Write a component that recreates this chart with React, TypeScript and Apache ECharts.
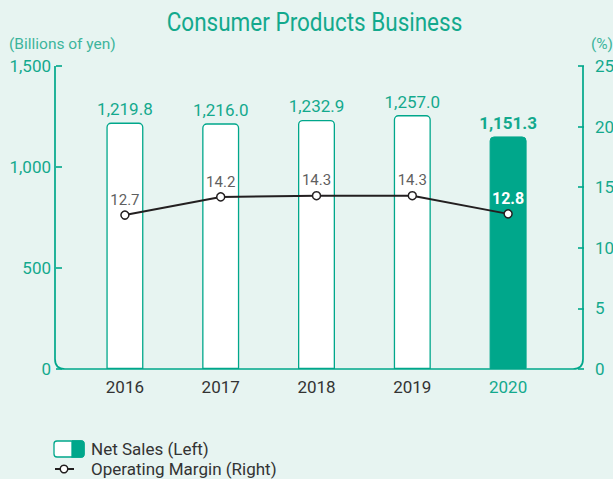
import React, { useEffect, useRef } from "react";
import * as echarts from "echarts";

const categories = ["2016", "2017", "2018", "2019", "2020"];
const netSales = [1219.8, 1216.0, 1232.9, 1257.0, 1151.3];
const operatingMargin = [12.7, 14.2, 14.3, 14.3, 12.8];
const leftTicks = { min: 0, max: 1500, interval: 500 };
const rightTicks = { min: 0, max: 25, interval: 5 };

const TEAL = "#00a78b";
const TEAL_TEXT = "#13a98d";
const TEAL_LIGHT = "#3db49c";
const BG = "#e7f4f1";
const FONT = "Roboto, 'Liberation Sans', Arial, sans-serif";

const fmt = (v: number, d = 0) =>
  v.toLocaleString("en-US", { minimumFractionDigits: d, maximumFractionDigits: d });

export default function App() {
  const ref = useRef<HTMLDivElement>(null);
  useEffect(() => {
    if (!ref.current) return;
    echarts.graphic.registerShape(
      "frame",
      echarts.graphic.extendPath("M0 0 L0 293 Q0 303 10 303 L518 303 Q528 303 528 293 L528 0", {})
    );
    const chart = echarts.init(ref.current, null, { renderer: "svg" });
    const last = categories.length - 1;
    chart.setOption({
      animation: false,
      backgroundColor: BG,
      textStyle: { fontFamily: FONT },
      grid: { left: 77, right: 57, top: 66, bottom: 110, containLabel: false, outerBoundsMode: "none" },
      xAxis: {
        type: "category",
        data: categories.map((c, i) =>
          i === last ? { value: c, textStyle: { color: TEAL_TEXT } } : c
        ),
        axisLine: { show: false },
        axisTick: { show: false },
        axisLabel: { color: "#333", fontSize: 17, margin: 9, fontFamily: FONT },
      },
      yAxis: [
        {
          type: "value",
          ...leftTicks,
          offset: 21,
          axisLine: { show: false },
          axisTick: { show: true, inside: true, length: 6, lineStyle: { color: TEAL, width: 1.6 } },
          splitLine: { show: false },
          axisLabel: { color: TEAL_TEXT, fontSize: 17, margin: 5, formatter: (v: number) => fmt(v) },
        },
        {
          type: "value",
          ...rightTicks,
          offset: 28,
          position: "right",
          axisLine: { show: false },
          axisTick: { show: true, inside: true, length: 6, lineStyle: { color: TEAL, width: 1.6 } },
          splitLine: { show: false },
          axisLabel: { color: TEAL_TEXT, fontSize: 17, margin: 11 },
        },
      ],
      series: [
        {
          type: "bar",
          yAxisIndex: 0,
          barWidth: 37,
          data: netSales.map((v, i) =>
            i === last
              ? {
                  value: v,
                  itemStyle: { color: TEAL, borderColor: TEAL, borderWidth: 1 },
                  label: { fontWeight: "bold" },
                }
              : v
          ),
          itemStyle: { color: "#ffffff", borderColor: TEAL, borderWidth: 1.3, borderRadius: [4, 4, 0, 0] },
          label: {
            show: true,
            position: "top",
            distance: 5,
            color: TEAL_TEXT,
            fontSize: 17,
            formatter: (p: any) => fmt(p.value, 1),
          },
        },
        {
          type: "line",
          yAxisIndex: 1,
          data: operatingMargin.map((v, i) =>
            i === last ? { value: v, label: { color: "#fff", fontWeight: "bold", fontSize: 16 } } : v
          ),
          lineStyle: { color: "#231f20", width: 2 },
          symbol: "circle",
          symbolSize: 8,
          itemStyle: { color: "#ffffff", borderColor: "#231f20", borderWidth: 1.5 },
          label: {
            show: true,
            position: "top",
            distance: 3,
            color: "#5f5f5f",
            fontSize: 15,
            formatter: (p: any) => fmt(p.value, 1),
          },
        },
      ],
      graphic: [
        {
          type: "frame",
          x: 55,
          y: 66,
          silent: true,
          style: { fill: null, stroke: TEAL, lineWidth: 1.7 },
          z: 10,
        },
        {
          type: "text",
          x: 314.5,
          y: 23,
          scaleX: 0.9,
          style: {
            text: "Consumer Products Business",
            fill: TEAL_TEXT,
            fontSize: 25,
            fontFamily: FONT,
            align: "center",
            verticalAlign: "middle",
          },
        },
        {
          type: "text",
          x: 9,
          y: 44,
          style: { text: "(Billions of yen)", fill: TEAL_LIGHT, fontSize: 15.5, fontFamily: FONT, verticalAlign: "middle" },
        },
        {
          type: "text",
          x: 613,
          y: 44,
          style: { text: "(%)", fill: TEAL_LIGHT, fontSize: 15.5, fontFamily: FONT, align: "right", verticalAlign: "middle" },
        },
        {
          type: "rect",
          shape: { x: 54, y: 441, width: 30, height: 16, r: 3 },
          style: { fill: "#fff", stroke: TEAL, lineWidth: 1.3 },
        },
        {
          type: "rect",
          shape: { x: 72, y: 441, width: 12, height: 16, r: [0, 3, 3, 0] },
          style: { fill: TEAL, stroke: TEAL, lineWidth: 1.3 },
        },
        {
          type: "text",
          x: 91,
          y: 449,
          style: { text: "Net Sales (Left)", fill: "#333", fontSize: 17, fontFamily: FONT, verticalAlign: "middle" },
        },
        {
          type: "line",
          shape: { x1: 55, y1: 469, x2: 74, y2: 469 },
          style: { stroke: "#231f20", lineWidth: 2 },
        },
        {
          type: "circle",
          shape: { cx: 64, cy: 469, r: 3.8 },
          style: { fill: "#fff", stroke: "#231f20", lineWidth: 1.5 },
        },
        {
          type: "text",
          x: 91,
          y: 469,
          style: { text: "Operating Margin (Right)", fill: "#333", fontSize: 17, fontFamily: FONT, verticalAlign: "middle" },
        },
      ],
    });
    return () => chart.dispose();
  }, []);
  return (
    <div
      ref={ref}
      style={{ position: "fixed", left: 0, top: 0, width: 613, height: 479, background: BG }}
    />
  );
}
